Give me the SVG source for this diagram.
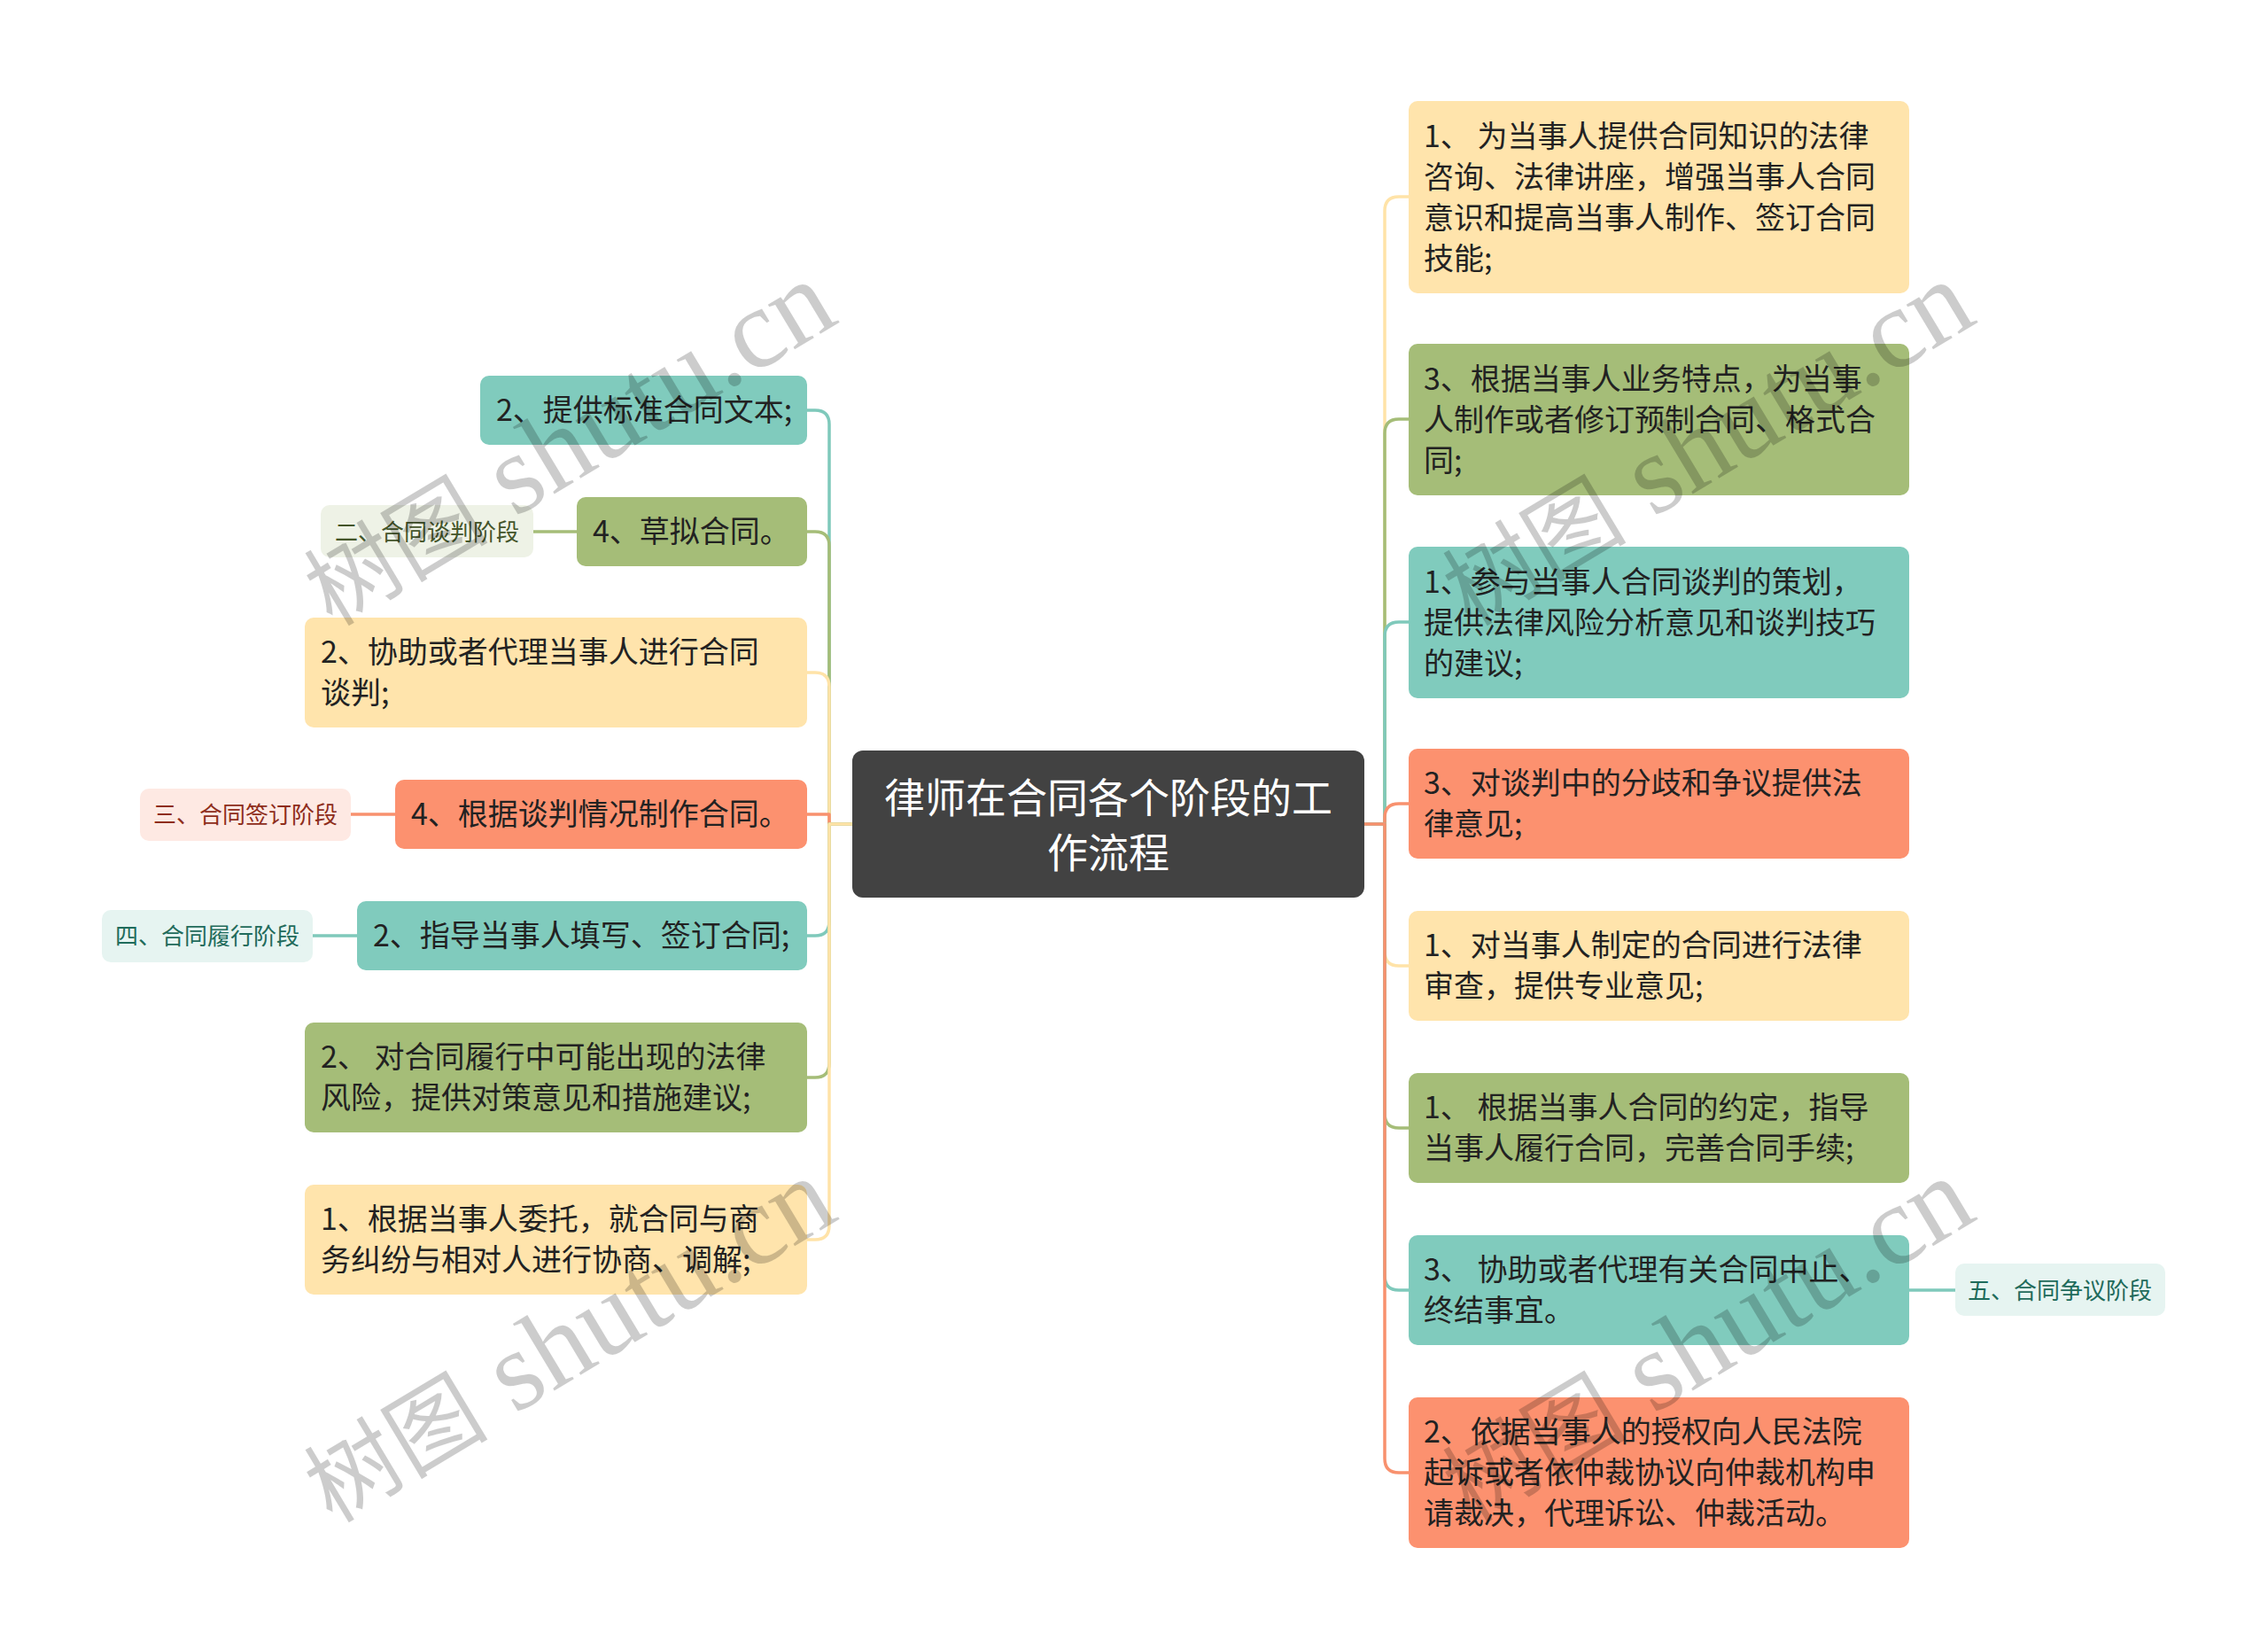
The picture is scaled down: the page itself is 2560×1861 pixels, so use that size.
<svg xmlns="http://www.w3.org/2000/svg" width="2560" height="1861" viewBox="0 0 2560 1861">
<style>
.t{font-family:"Noto Sans CJK SC","Noto Sans",sans-serif;font-size:34px;fill:#222222}
.s{font-family:"Noto Sans CJK SC","Noto Sans",sans-serif;font-size:26px;text-anchor:middle}
.c{font-family:"Noto Sans CJK SC","Noto Sans",sans-serif;font-size:46px;fill:#ffffff;text-anchor:middle}
.teal{fill:#80CBBD}
.green{fill:#A5BD78}
.yellow{fill:#FFE4AC}
.orange{fill:#FC916F}
.ln{fill:none;stroke-width:3.5;stroke-linejoin:round;stroke-linecap:round}
.lt{stroke:#7FC9BB}
.lg{stroke:#A5BD78}
.ly{stroke:#FFE3A8}
.lo{stroke:#F8916E}
.wm{font-family:"Liberation Serif","Noto Sans CJK SC",serif;font-size:128px;fill:#000000;fill-opacity:0.2}
.wc{font-size:104px}
</style>
<rect width="2560" height="1861" fill="#ffffff"/>
<g id="connectors">
<path class="ln lt" d="M962,930 H936 V479 Q936,463 920,463 H911"/>
<path class="ln lg" d="M962,930 H936 V616 Q936,600 920,600 H911"/>
<path class="ln ly" d="M962,930 H936 V775 Q936,759 920,759 H911"/>
<path class="ln lo" d="M962,930 H936 V919 H911"/>
<path class="ln lt" d="M962,930 H936 V1040 Q936,1056 920,1056 H911"/>
<path class="ln lg" d="M962,930 H936 V1200 Q936,1216 920,1216 H911"/>
<path class="ln ly" d="M962,930 H936 V1383 Q936,1399 920,1399 H911"/>
<path class="ln lg" d="M602,600 H651"/>
<path class="ln lo" d="M396,919 H446"/>
<path class="ln lt" d="M353,1056 H403"/>
<path class="ln ly" d="M1540,930 H1563 V238 Q1563,222 1579,222 H1590"/>
<path class="ln lg" d="M1540,930 H1563 V489 Q1563,473 1579,473 H1590"/>
<path class="ln lt" d="M1540,930 H1563 V718 Q1563,702 1579,702 H1590"/>
<path class="ln lo" d="M1540,930 H1563 V923 Q1563,907 1579,907 H1590"/>
<path class="ln ly" d="M1540,930 H1563 V1074 Q1563,1090 1579,1090 H1590"/>
<path class="ln lg" d="M1540,930 H1563 V1257 Q1563,1273 1579,1273 H1590"/>
<path class="ln lt" d="M1540,930 H1563 V1440 Q1563,1456 1579,1456 H1590"/>
<path class="ln lo" d="M1540,930 H1563 V1646 Q1563,1662 1579,1662 H1590"/>
<path class="ln lt" d="M2155,1456 H2207"/>
</g>
<g id="center">
<rect x="962" y="847" width="578" height="166" rx="12" fill="#424242"/>
<text class="c" x="1251" y="917">律师在合同各个阶段的工</text>
<text class="c" x="1251" y="979">作流程</text>
</g>
<g id="L1"><rect class="teal" x="542" y="424" width="369" height="78" rx="10"/><text class="t" x="560" y="475">2、提供标准合同文本;</text></g>
<g id="L2"><rect class="green" x="651" y="561" width="260" height="78" rx="10"/><text class="t" x="669" y="612">4、草拟合同。</text></g>
<g id="S2"><rect x="362" y="570" width="240" height="59" rx="10" fill="#EEF2E6"/><text class="s" x="482" y="610" fill="#44552A">二、合同谈判阶段</text></g>
<g id="L3"><rect class="yellow" x="344" y="697" width="567" height="124" rx="10"/><text class="t" x="362" y="748">2、协助或者代理当事人进行合同</text><text class="t" x="362" y="794">谈判;</text></g>
<g id="L4"><rect class="orange" x="446" y="880" width="465" height="78" rx="10"/><text class="t" x="464" y="931">4、根据谈判情况制作合同。</text></g>
<g id="S3"><rect x="158" y="890" width="238" height="59" rx="10" fill="#FEE9E3"/><text class="s" x="277" y="929" fill="#8E2D1B">三、合同签订阶段</text></g>
<g id="L5"><rect class="teal" x="403" y="1017" width="508" height="78" rx="10"/><text class="t" x="421" y="1068">2、指导当事人填写、签订合同;</text></g>
<g id="S4"><rect x="115" y="1027" width="238" height="59" rx="10" fill="#E6F4F1"/><text class="s" x="234" y="1066" fill="#1F6B5B">四、合同履行阶段</text></g>
<g id="L6"><rect class="green" x="344" y="1154" width="567" height="124" rx="10"/><text class="t" x="362" y="1205">2、 对合同履行中可能出现的法律</text><text class="t" x="362" y="1251">风险，提供对策意见和措施建议;</text></g>
<g id="L7"><rect class="yellow" x="344" y="1337" width="567" height="124" rx="10"/><text class="t" x="362" y="1388">1、根据当事人委托，就合同与商</text><text class="t" x="362" y="1434">务纠纷与相对人进行协商、调解;</text></g>
<g id="R1"><rect class="yellow" x="1590" y="114" width="565" height="217" rx="10"/><text class="t" x="1607" y="166">1、 为当事人提供合同知识的法律</text><text class="t" x="1607" y="212">咨询、法律讲座，增强当事人合同</text><text class="t" x="1607" y="258">意识和提高当事人制作、签订合同</text><text class="t" x="1607" y="304">技能;</text></g>
<g id="R2"><rect class="green" x="1590" y="388" width="565" height="171" rx="10"/><text class="t" x="1607" y="440">3、根据当事人业务特点，为当事</text><text class="t" x="1607" y="486">人制作或者修订预制合同、格式合</text><text class="t" x="1607" y="532">同;</text></g>
<g id="R3"><rect class="teal" x="1590" y="617" width="565" height="171" rx="10"/><text class="t" x="1607" y="669">1、参与当事人合同谈判的策划，</text><text class="t" x="1607" y="715">提供法律风险分析意见和谈判技巧</text><text class="t" x="1607" y="761">的建议;</text></g>
<g id="R4"><rect class="orange" x="1590" y="845" width="565" height="124" rx="10"/><text class="t" x="1607" y="896">3、对谈判中的分歧和争议提供法</text><text class="t" x="1607" y="942">律意见;</text></g>
<g id="R5"><rect class="yellow" x="1590" y="1028" width="565" height="124" rx="10"/><text class="t" x="1607" y="1079">1、对当事人制定的合同进行法律</text><text class="t" x="1607" y="1125">审查，提供专业意见;</text></g>
<g id="R6"><rect class="green" x="1590" y="1211" width="565" height="124" rx="10"/><text class="t" x="1607" y="1262">1、 根据当事人合同的约定，指导</text><text class="t" x="1607" y="1308">当事人履行合同，完善合同手续;</text></g>
<g id="R7"><rect class="teal" x="1590" y="1394" width="565" height="124" rx="10"/><text class="t" x="1607" y="1445">3、 协助或者代理有关合同中止、</text><text class="t" x="1607" y="1491">终结事宜。</text></g>
<g id="S5"><rect x="2207" y="1426" width="237" height="59" rx="10" fill="#E6F4F1"/><text class="s" x="2325" y="1466" fill="#1F6B5B">五、合同争议阶段</text></g>
<g id="R8"><rect class="orange" x="1590" y="1577" width="565" height="170" rx="10"/><text class="t" x="1607" y="1628">2、依据当事人的授权向人民法院</text><text class="t" x="1607" y="1674">起诉或者依仲裁协议向仲裁机构申</text><text class="t" x="1607" y="1720">请裁决，代理诉讼、仲裁活动。</text></g>
<g id="watermark">
<text class="wm" transform="translate(375,708) rotate(-31)"><tspan class="wc">树图</tspan> shutu.cn</text>
<text class="wm" transform="translate(1660,708) rotate(-31)"><tspan class="wc">树图</tspan> shutu.cn</text>
<text class="wm" transform="translate(375,1720) rotate(-31)"><tspan class="wc">树图</tspan> shutu.cn</text>
<text class="wm" transform="translate(1660,1720) rotate(-31)"><tspan class="wc">树图</tspan> shutu.cn</text>
</g>
</svg>
